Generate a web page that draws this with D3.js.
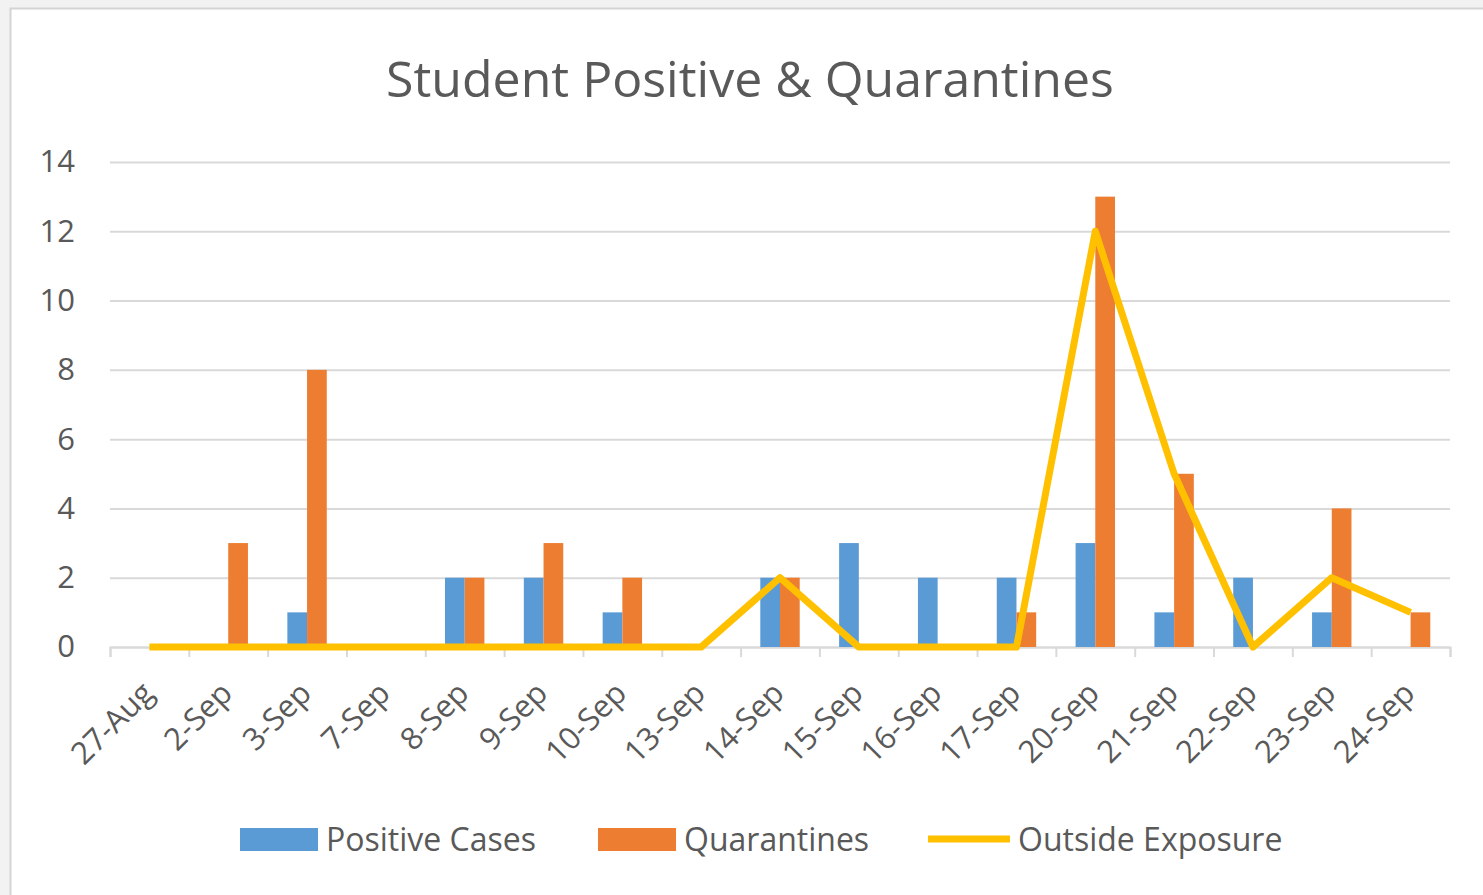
<!DOCTYPE html>
<html>
<head>
<meta charset="utf-8">
<script src="https://cdn.jsdelivr.net/npm/d3@7"></script>
<style>
  html, body { margin: 0; padding: 0; background: #f2f2f2; }
  svg { display: block; font-family: "Open Sans", sans-serif; }
</style>
</head>
<body>
<script>
const categories = ["27-Aug", "2-Sep", "3-Sep", "7-Sep", "8-Sep", "9-Sep", "10-Sep", "13-Sep", "14-Sep",
  "15-Sep", "16-Sep", "17-Sep", "20-Sep", "21-Sep", "22-Sep", "23-Sep", "24-Sep"];
const positiveCases = [0, 0, 1, 0, 2, 2, 1, 0, 2, 3, 2, 2, 3, 1, 2, 1, 0];
const quarantines = [0, 3, 8, 0, 2, 3, 2, 0, 2, 0, 0, 1, 13, 5, 0, 4, 1];
const outsideExposure = [0, 0, 0, 0, 0, 0, 0, 0, 2, 0, 0, 0, 12, 5, 0, 2, 1];
const yTicks = [0, 2, 4, 6, 8, 10, 12, 14];
const seriesNames = ["Positive Cases", "Quarantines", "Outside Exposure"];

const width = 1483;
const height = 895;
const blue = "#5b9bd5";
const orange = "#ed7d31";
const yellow = "#ffc000";
const textColor = "#595959";
const gridColor = "#d9d9d9";

const svg = d3.select("body")
  .append("svg")
  .attr("width", width)
  .attr("height", height);

// chart area box
svg.append("rect")
  .attr("x", 10.5)
  .attr("y", 8.5)
  .attr("width", width)
  .attr("height", height)
  .attr("fill", "#fff")
  .attr("stroke", "#d4d4d4")
  .attr("stroke-width", 2);

svg.append("text")
  .attr("x", 750)
  .attr("y", 97)
  .attr("text-anchor", "middle")
  .attr("fill", textColor)
  .style("font-size", "50px")
  .text("Student Positive & Quarantines");

const plotLeft = 110, plotRight = 1450;

const x = d3.scaleBand()
  .domain(categories)
  .range([plotLeft, plotRight]);

const xInner = d3.scaleBand()
  .domain(["pos", "quar"])
  .range([x.bandwidth() / 4, x.bandwidth() * 3 / 4]);

const y = d3.scaleLinear()
  .domain([0, 14])
  .range([647, 162]);

// gridlines + y labels
const yAxis = svg.append("g")
  .attr("transform", `translate(${plotLeft},0)`)
  .call(d3.axisLeft(y).tickValues(yTicks).tickSize(-(plotRight - plotLeft)).tickPadding(35));
yAxis.select(".domain").remove();
yAxis.selectAll(".tick line").attr("stroke", gridColor).attr("stroke-width", 2);
yAxis.selectAll(".tick text")
  .attr("fill", textColor)
  .style("font-size", "31px")
  .style("font-family", "Open Sans");

// x axis, tick marks sit between categories
const xEdge = d3.scaleLinear().domain([0, categories.length]).range([plotLeft, plotRight]);
const xAxis = svg.append("g")
  .attr("transform", `translate(0,${y(0)})`)
  .call(d3.axisBottom(xEdge).ticks(categories.length).tickSize(10).tickFormat(""));
xAxis.select(".domain").attr("stroke", gridColor).attr("stroke-width", 2);
xAxis.selectAll(".tick line").attr("stroke", gridColor).attr("stroke-width", 2);

// x labels rotated
svg.append("g")
  .selectAll("text")
  .data(categories)
  .join("text")
  .attr("transform", d => `translate(${x(d) + x.bandwidth() / 2 + 6},${y(0) + 48}) rotate(-45)`)
  .attr("text-anchor", "end")
  .attr("fill", textColor)
  .style("font-size", "31px")
  .text(d => d);

// bars
const bars = svg.append("g");
bars.selectAll(".pos")
  .data(positiveCases)
  .join("rect")
  .attr("class", "pos")
  .attr("x", (d, i) => x(categories[i]) + xInner("pos"))
  .attr("width", xInner.bandwidth())
  .attr("y", d => y(d))
  .attr("height", d => y(0) - y(d))
  .attr("fill", blue);

bars.selectAll(".quar")
  .data(quarantines)
  .join("rect")
  .attr("class", "quar")
  .attr("x", (d, i) => x(categories[i]) + xInner("quar"))
  .attr("width", xInner.bandwidth())
  .attr("y", d => y(d))
  .attr("height", d => y(0) - y(d))
  .attr("fill", orange);

// outside exposure line
const line = d3.line()
  .x((d, i) => x(categories[i]) + x.bandwidth() / 2)
  .y(d => y(d));

svg.append("path")
  .datum(outsideExposure)
  .attr("d", line)
  .attr("fill", "none")
  .attr("stroke", yellow)
  .attr("stroke-width", 7)
  .attr("stroke-linejoin", "round");

// legend
const legend = svg.append("g").style("font-size", "32px").attr("fill", textColor);
const legendItems = [
  { name: seriesNames[0], color: blue, type: "bar", x: 240 },
  { name: seriesNames[1], color: orange, type: "bar", x: 598 },
  { name: seriesNames[2], color: yellow, type: "line", x: 928 }
];
legendItems.forEach(item => {
  if (item.type === "bar") {
    legend.append("rect")
      .attr("x", item.x).attr("y", 828)
      .attr("width", 78).attr("height", 23)
      .attr("fill", item.color);
  } else {
    legend.append("line")
      .attr("x1", item.x).attr("x2", item.x + 82)
      .attr("y1", 839).attr("y2", 839)
      .attr("stroke", item.color).attr("stroke-width", 7);
  }
  legend.append("text")
    .attr("x", item.x + (item.type === "bar" ? 86 : 90))
    .attr("y", 851)
    .text(item.name);
});
</script>
</body>
</html>
